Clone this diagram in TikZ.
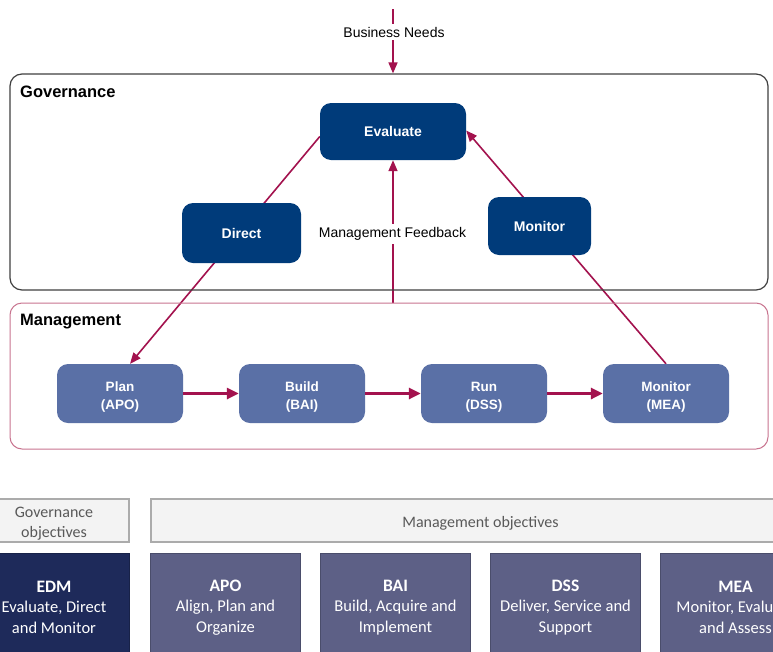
\documentclass[tikz,border=0pt]{standalone}
\usepackage{fontspec}
\setmainfont{Liberation Sans}
\newfontfamily\carlito{Carlito}
\usetikzlibrary{arrows.meta,calc}
\pgfdeclarelayer{back}
\pgfsetlayers{back,main}

\definecolor{govblue}{HTML}{003B7A}
\definecolor{mgmtblue}{HTML}{5A70A6}
\definecolor{flowred}{HTML}{A3124E}
\definecolor{govframe}{HTML}{404040}
\definecolor{mgmtframe}{HTML}{C8748F}
\definecolor{edmnavy}{HTML}{1E2A5A}
\definecolor{objgray}{HTML}{5D6086}
\definecolor{headfill}{HTML}{F3F3F3}
\definecolor{headdraw}{HTML}{ABABAB}
\definecolor{headtext}{HTML}{595959}

% invisible strut that pushes a text block slightly down
\newcommand{\dropby}[1]{\rule{0pt}{#1}}
% bold title line of an objective domain
\newcommand{\domainname}[1]{{\dropby{16pt}\carlito\bfseries\fontsize{17.5}{20.5}\selectfont #1}}

\tikzset{
  container/.style={draw, rounded corners=12pt, inner sep=0pt},
  areatitle/.style={anchor=west, inner sep=0pt, font=\bfseries\fontsize{16.5}{18}\selectfont},
  govbox/.style={fill=govblue, rounded corners=11pt, inner sep=0pt, text=white,
    font=\bfseries\fontsize{14}{16}\selectfont},
  mgmtbox/.style={fill=mgmtblue, rounded corners=11pt, inner sep=0pt, text=white, align=center,
    minimum width=126pt, minimum height=59pt, font=\bfseries\fontsize{13.5}{18}\selectfont},
  plainlabel/.style={fill=white, inner sep=3pt, font=\fontsize{14}{16}\selectfont},
  link/.style={draw=flowred, line width=1.6pt, -{Triangle[length=11pt,width=9pt]}},
  flow/.style={draw=flowred, line width=3pt, -{Triangle[length=12pt,width=11pt]}},
  headbox/.style={draw=headdraw, fill=headfill, line width=1.8pt, inner sep=0pt, align=center,
    minimum height=43pt, text=headtext, font=\carlito\fontsize{16}{20}\selectfont},
  objbox/.style={draw=#1!80!black, fill=#1, line width=0.8pt, inner sep=0pt, align=center,
    minimum width=150pt, minimum height=103pt, text=white, font=\carlito\fontsize{16.5}{20.5}\selectfont},
}

\begin{document}
\begin{tikzpicture}[x=1pt,y=-1pt]
\useasboundingbox (0,0) rectangle (773,651);

% page background
\begin{pgfonlayer}{back}
  \fill[white] (0,0) rectangle (773,651);
\end{pgfonlayer}

% governance and management areas
\node[container, draw=govframe, line width=1.2pt, minimum width=758pt, minimum height=216pt]
  (gov) at (389,182) {};
\node[areatitle] (govtitle) at (20,91.5) {Governance};
\node[container, draw=mgmtframe, line width=1pt, minimum width=758pt, minimum height=146pt]
  (mgmt) at (389,376) {};
\node[areatitle] (mgmttitle) at (20,321.5) {Management};

% governance activities
\node[govbox, minimum width=146pt, minimum height=57pt] (ev)  at (393,131.5) {Evaluate};
\node[govbox, minimum width=119pt, minimum height=60pt] (dir) at (241.5,233) {Direct};
\node[govbox, minimum width=103pt, minimum height=58pt] (mon) at (539.5,226) {Monitor};

% management domains
\node[mgmtbox] (plan)  at (120,393.5) {\dropby{16pt}Plan\\(APO)};
\node[mgmtbox] (build) at (302,393.5) {\dropby{16pt}Build\\(BAI)};
\node[mgmtbox] (run)   at (484,393.5) {\dropby{16pt}Run\\(DSS)};
\node[mgmtbox] (mea)   at (666,393.5) {\dropby{16pt}Monitor\\(MEA)};

% connectors (kept behind the boxes)
\coordinate (bn) at (393,9);
\begin{pgfonlayer}{back}
  \draw[link] (bn) -- (bn |- gov.north);
  \draw[link] (ev.south |- mgmt.north) -- (ev.south);
  \draw[link] ([yshift=-5pt]ev.west) -- ([xshift=10pt]plan.north);
  \draw[link] (mea.north) -- ([yshift=1pt]ev.east);
\end{pgfonlayer}
\draw[flow] (plan.east)  -- (build.west);
\draw[flow] (build.east) -- (run.west);
\draw[flow] (run.east)   -- (mea.west);

\node[plainlabel] (bnlabel) at (394,32) {Business Needs};
\node[plainlabel] (fblabel) at (392.5,234) {Management Feedback};

% objective headers
\node[headbox, minimum width=150pt] (govobj) at (54,520.5) {\dropby{17pt}Governance\\objectives};
\node[headbox, minimum width=659pt] (mgmtobj) at (480.5,520.5) {\dropby{17.5pt}Management objectives};

% objective domains
\node[objbox=edmnavy] (edm) at (54,605)
  {\domainname{EDM}\\Evaluate, Direct\\and Monitor};
\node[objbox=objgray] (apo) at (225.5,605)
  {\domainname{APO}\\Align, Plan and\\Organize};
\node[objbox=objgray] (bai) at (395.5,605)
  {\domainname{BAI}\\Build, Acquire and\\Implement};
\node[objbox=objgray] (dss) at (565.5,605)
  {\domainname{DSS}\\Deliver, Service and\\Support};
\node[objbox=objgray] (meaobj) at (735.5,605)
  {\domainname{MEA}\\Monitor, Evaluate\\and Assess};
\end{tikzpicture}
\end{document}
